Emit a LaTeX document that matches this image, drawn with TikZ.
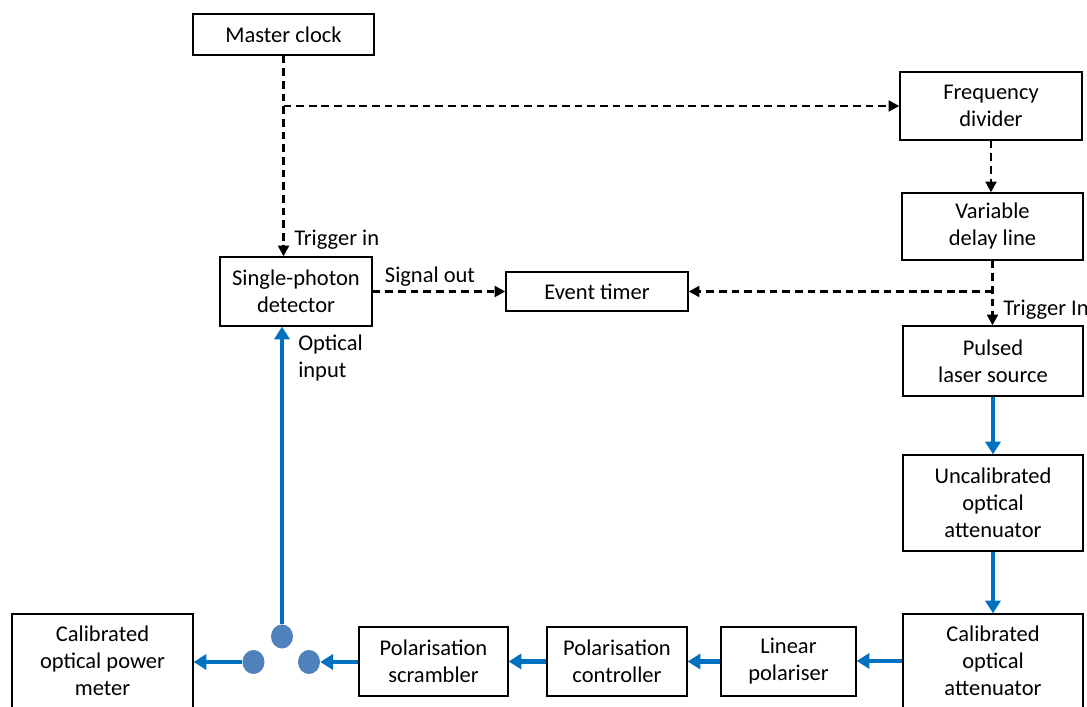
\documentclass[tikz,border=0pt]{standalone}
\usepackage{fontspec}
\setmainfont{Carlito}
\usepackage{xcolor}
\usepackage{tikz}
\usetikzlibrary{shapes.geometric,arrows.meta,positioning,calc}
\definecolor{fibreblue}{HTML}{0070C0}
\definecolor{portblue}{HTML}{4F81BD}

\begin{document}
\begin{tikzpicture}[
    x=0.025cm, y=-0.025cm,
    font=\fontsize{16}{19.2}\selectfont,
    block/.style={rectangle, draw, line width=0.9pt, fill=white, align=center, inner sep=1pt},
    tag/.style={inner sep=0pt, align=left},
    port/.style={ellipse, fill=portblue, minimum width=0.55cm, minimum height=0.6cm, inner sep=0pt},
    trigger/.style={line width=1.9pt, dash pattern=on 5.5pt off 3.5pt, -{Triangle[length=0.27cm,width=0.27cm]}},
    optical/.style={line width=2.9pt, fibreblue, -{Triangle[length=0.32cm,width=0.38cm]}}
]
\useasboundingbox (0,0) rectangle (1087,707);

% Timing chain
\node[block, minimum width=4.525cm, minimum height=1.025cm] (clock) at (283.5,34.5) {Master clock};
\node[block, minimum width=4.55cm, minimum height=1.7cm] (divider) at (991,106) {Frequency\\divider};
\node[block, minimum width=4.525cm, minimum height=1.675cm] (delay) at (992.5,226.5) {Variable\\delay line};
\node[block, minimum width=3.8cm, minimum height=1.725cm] (spd) at (296,291.5) {Single-photon\\detector};
\node[block, minimum width=4.55cm, minimum height=0.975cm] (timer) at (597,291.5) {Event timer};

% Optical chain (right column)
\node[block, minimum width=4.5cm, minimum height=1.75cm] (laser) at (993,361) {Pulsed\\laser source};
\node[block, minimum width=4.5cm, minimum height=2.4cm] (uncal) at (993,503) {Uncalibrated\\optical\\attenuator};
\node[block, minimum width=4.5cm, minimum height=2.35cm] (calatt) at (993,661) {Calibrated\\optical\\attenuator};

% Optical chain (bottom row)
\node[block, minimum width=3.375cm, minimum height=1.725cm] (linpol) at (788.5,661.5) {Linear\\polariser};
\node[block, minimum width=3.5cm, minimum height=1.725cm] (polctrl) at (617,661.5) {Polarisation\\controller};
\node[block, minimum width=3.725cm, minimum height=1.725cm] (scrambler) at (433.5,661.5) {Polarisation\\scrambler};
\node[block, minimum width=4.525cm, minimum height=2.35cm] (meter) at (102.5,661) {Calibrated\\optical power\\meter};

% Fibre switch ports
\node[port] (porttop) at (282,636.5) {};
\node[port] (portleft) at (253.5,662) {};
\node[port] (portright) at (309,662) {};

% Labels
\node[tag, anchor=west] (trigin) at (294,240) {Trigger in};
\node[tag] (sigout) at (430,277) {Signal out};
\node[tag, anchor=west] (optin) at (298,358) {Optical\\input};
\node[tag, anchor=west] (trigIn) at (1003,310) {Trigger In};

% Trigger connections
\draw[trigger] (clock.south) -- (clock.south |- spd.north);
\draw[trigger] (clock.south |- divider.west) -- (divider.west);
\draw[trigger] (divider.south) -- (divider.south |- delay.north);
\draw[trigger] (delay.south) -- (delay.south |- laser.north);
\draw[trigger] (delay.south |- timer.east) -- (timer.east);
\draw[trigger] (spd.east) -- (spd.east -| timer.west);

% Optical connections
\draw[optical] (laser) -- (uncal);
\draw[optical] (uncal) -- (calatt);
\draw[optical] (calatt.west) -- (calatt.west -| linpol.east);
\draw[optical] (linpol.west) -- (linpol.west -| polctrl.east);
\draw[optical] (polctrl.west) -- (polctrl.west -| scrambler.east);
\draw[optical] (scrambler.west |- portright.east) -- (portright.east);
\draw[optical] (portleft.west) -- (portleft.west -| meter.east);
\draw[optical] (porttop.north) -- (porttop.north |- spd.south);

\end{tikzpicture}
\end{document}
